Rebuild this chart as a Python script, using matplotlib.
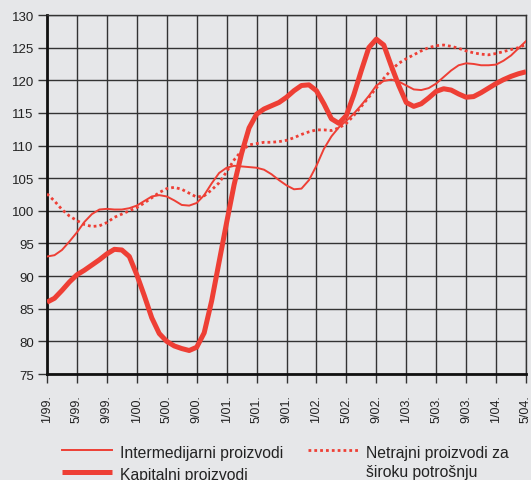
import numpy as np
import matplotlib
matplotlib.use('Agg')
import matplotlib.pyplot as plt
from matplotlib.lines import Line2D

plt.rcParams['font.family'] = ['Liberation Sans', 'DejaVu Sans']

# ==============================================================================
# Podaci: indeksi po mjesecima, 1/99. - 5/04.
# ==============================================================================
tick_labels = ['1/99.', '5/99.', '9/99.', '1/00.', '5/00.', '9/00.', '1/01.', '5/01.',
               '9/01.', '1/02.', '5/02.', '9/02.', '1/03.', '5/03.', '9/03.', '1/04.', '5/04.']

intermedijarni = [
    93.0, 93.2, 94.0, 95.3, 96.7, 98.3, 99.5, 100.2, 100.3, 100.2,
    100.2, 100.4, 100.8, 101.5, 102.2, 102.4, 102.2, 101.6, 100.9, 100.8,
    101.2, 102.4, 104.2, 105.8, 106.6, 106.9, 106.8, 106.7, 106.6, 106.3,
    105.6, 104.7, 103.9, 103.3, 103.4, 104.7, 106.9, 109.5, 111.4, 112.8,
    113.8, 114.9, 116.2, 117.6, 119.2, 119.9, 120.1, 119.8, 119.2, 118.6,
    118.5, 118.8, 119.5, 120.5, 121.5, 122.3, 122.6, 122.5, 122.3, 122.3,
    122.4, 123.0, 123.8, 124.9, 126.0]

kapitalni = [
    86.0, 86.6, 87.8, 89.1, 90.2, 90.9, 91.7, 92.5, 93.4, 94.1,
    94.0, 93.0, 90.2, 87.0, 83.6, 81.2, 80.0, 79.3, 78.9, 78.6,
    79.1, 81.3, 86.2, 92.2, 98.2, 104.0, 108.8, 112.7, 114.8, 115.6,
    116.1, 116.6, 117.4, 118.4, 119.2, 119.3, 118.4, 116.4, 114.1, 113.4,
    114.6, 117.8, 121.5, 125.0, 126.3, 125.4, 122.2, 119.2, 116.6, 116.0,
    116.4, 117.3, 118.3, 118.7, 118.5, 117.9, 117.4, 117.5, 118.1, 118.8,
    119.5, 120.1, 120.6, 121.0, 121.3]

netrajni = [
    102.6, 101.5, 100.2, 99.2, 98.5, 97.9, 97.6, 97.7, 98.2, 99.0,
    99.5, 100.0, 100.5, 101.2, 102.0, 102.8, 103.4, 103.6, 103.3, 102.7,
    102.1, 102.3, 103.2, 104.3, 106.0, 107.8, 109.2, 110.1, 110.3, 110.5,
    110.5, 110.6, 110.8, 111.2, 111.7, 112.1, 112.4, 112.4, 112.3, 112.7,
    113.4, 114.6, 116.0, 117.4, 118.8, 120.3, 121.6, 122.6, 123.3, 123.9,
    124.5, 125.0, 125.3, 125.4, 125.2, 124.9, 124.5, 124.2, 124.0, 123.9,
    124.1, 124.4, 124.7, 125.0, 125.5]

months = np.arange(len(kapitalni))
tick_pos = months[::4]

bg = '#e6e7e9'
red = '#ee3f35'
grid_c = '#333333'
txt_c = '#222222'

W, H = 531, 481
fig = plt.figure(figsize=(W/100, H/100), dpi=100, facecolor=bg)
ax = fig.add_axes([47/W, 106/H, 479/W, 359/H], facecolor=bg)

# stilovi linija
styles = {
    'thin':   dict(color=red, lw=1.4),
    'thick':  dict(color=red, lw=3.6, solid_capstyle='butt'),
    'dotted': dict(color=red, lw=2.0, linestyle=(0, (1, 1.1))),
}

ax.plot(months, intermedijarni, zorder=3, **styles['thin'])
ax.plot(months, kapitalni, zorder=4, **styles['thick'])
ax.plot(months, netrajni, zorder=3, **styles['dotted'])

ax.set_xlim(0, 64)
ax.set_ylim(75, 130)
ax.set_yticks(np.arange(75, 131, 5))
ax.set_xticks(tick_pos)
ax.set_xticklabels(tick_labels, rotation=90, fontsize=9, color=txt_c)
ax.tick_params(axis='y', labelsize=9.5, length=6.5, width=1, color=grid_c, labelcolor=txt_c, pad=3)
ax.tick_params(axis='x', length=6.5, width=1, color=grid_c, pad=8)

ax.grid(True, color=grid_c, lw=1.0)
ax.set_axisbelow(True)
for s in ['top', 'right']:
    ax.spines[s].set_color(grid_c)
    ax.spines[s].set_linewidth(1.0)
for s in ['left', 'bottom']:
    ax.spines[s].set_color('#111111')
    ax.spines[s].set_linewidth(2.0)

# ── legenda (ručno, kao u originalu) ─────────────────────────────────────────
legenda = [
    ('thin',   62, 451, 'Intermedijarni proizvodi'),
    ('thick',  62, 473, 'Kapitalni proizvodi'),
    ('dotted', 308, 451, 'Netrajni proizvodi za\nširoku potrošnju'),
]
for key, x0, y0, label in legenda:
    fig.add_artist(Line2D([x0/W, (x0+50)/W], [1 - y0/H, 1 - y0/H], **styles[key]))
    fig.text((x0 + 58)/W, 1 - (y0 - 5)/H, label, fontsize=11.3, color=txt_c,
             ha='left', va='top', linespacing=1.3)

plt.savefig('out.png', dpi=100, facecolor=bg)
